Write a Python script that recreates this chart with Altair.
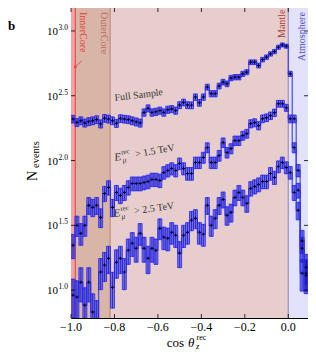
import altair as alt
import pandas as pd
import numpy as np

# ---------------- data ----------------
full_counts = [209, 197, 203, 195, 200, 203, 207, 192, 212, 209,
               203, 194, 211, 209, 207, 203, 199, 195, 235, 253,
               235, 238, 243, 235, 247, 250, 243, 268, 281, 268,
               267, 309, 279, 309, 369, 328, 328, 376, 403, 391,
               433, 440, 440, 467, 481, 574, 574, 541, 601, 628,
               665, 693, 749, 780, 763,
               467, 210, 84, 24, 15]
mid_counts = [22.2, 31.6, 27.4, 31.6, 45.1, 43.5, 45.1, 36.4, 55.7, 62.0,
              43.5, 56.7, 53.8, 56.7, 62.0, 66.5, 66.5, 66.5, 67.7, 68.9,
              71.4, 71.4, 70.2, 80.8, 83.8, 86.8, 83.8, 94.8, 86.8, 79.4,
              79.4, 96.5, 96.5, 105.5, 125.9, 96.5, 96.5, 109.3, 137.6, 115.2,
              123.7, 142.5, 142.5, 155.7, 161.3, 192.6, 196.0, 185.9, 210.4, 214.2,
              221.9, 234.0, 274.5, 274.5, 255.6,
              210, 126, 59, 21, 13.5]
low_counts = [9.15, 8.84, 11.5, 7.66, 11.5, 6.77, 5.88, 13.8, 15.6, 17.6,
              10.5, 16.4, 17.6, 13.8, 20.3, 23.0, 21.0, 27.4, 21.0, 17.6,
              21.0, 20.3, 30.0, 25.6, 25.1, 27.9, 26.5, 19.3, 26.5, 27.9,
              34.6, 35.8, 27.9, 27.0, 45.1, 31.6, 35.8, 45.1, 50.1, 37.8,
              39.8, 51.9, 56.7, 51.9, 46.7, 60.9, 63.1, 65.4, 68.9, 68.9,
              79.4, 74.0, 89.9, 96.5, 88.4,
              80.8, 56.7, 41.3, 13.5, 13.0]

regions = ["InnerCore", "OuterCore", "Mantle", "Atmosphere"]
region_start = [-1.0, -0.98, -0.82, 0.0]
region_end = [-0.98, -0.82, 0.0, 0.1]
region_fill = ["#f2a4a4", "#d8b5a7", "#e8cdcd", "#e2e2fc"]
boundaries = [-0.98, -0.82, 0.0]
boundary_colors = ["#e65050", "#c08a7c", "#a48cc0"]

x_ticks = [-1.0, -0.8, -0.6, -0.4, -0.2, 0.0]
y_tick_exps = [1.0, 1.5, 2.0, 2.5, 3.0]

FONT = "Liberation Serif"
W, H = 237, 310
BIN_W = 1.0 / 55

xs = alt.Scale(domain=[-1.0, 0.0908], nice=False, zero=False)
ys = alt.Scale(type="log", domain=[10 ** 0.785, 10 ** 3.177], nice=False)

rows = []
for name, counts in [("full", full_counts), ("mid", mid_counts), ("low", low_counts)]:
    for i, c in enumerate(counts):
        x0 = -1.0 + i * BIN_W
        e = float(np.sqrt(c))
        rows.append(dict(series=name, x0=x0, x1=x0 + BIN_W, xc=x0 + BIN_W / 2,
                         n=c, lo=c - e, hi=c + e))
df = pd.DataFrame(rows)

reg_df = pd.DataFrame({"region": regions, "start": region_start, "end": region_end})
bnd_df = pd.DataFrame({"b": boundaries, "col": boundary_colors})
xt_df = pd.DataFrame({"v": x_ticks})
xt_df["lab"] = [f"{v:.1f}".replace("-", "\u2212") for v in x_ticks]
yt_df = pd.DataFrame({"e": y_tick_exps})
yt_df["v"] = 10 ** yt_df["e"]
yt_df["lab"] = [f"{e:.1f}" for e in y_tick_exps]

# ---------------- layers ----------------
bg = alt.Chart(reg_df).mark_rect().encode(
    x=alt.X("start:Q", scale=xs, axis=None),
    x2="end:Q",
    y=alt.value(0), y2=alt.value(H),
    fill=alt.Fill("region:N", scale=alt.Scale(domain=regions, range=region_fill), legend=None),
)

bnd = alt.Chart(bnd_df).mark_rule(strokeWidth=1.2).encode(
    x=alt.X("b:Q", scale=xs, axis=None), y=alt.value(0), y2=alt.value(H),
    color=alt.Color("col:N", scale=None),
)

step = alt.Chart(df).mark_line(interpolate="step", color="#3a3aff", strokeWidth=1.1, clip=True).encode(
    x=alt.X("xc:Q", scale=xs, axis=None),
    y=alt.Y("n:Q", scale=ys, axis=None),
    detail="series:N",
)

boxes = alt.Chart(df).mark_rect(fill="#3c3cff", fillOpacity=0.62, stroke="#2222ff",
                                strokeWidth=0.8, clip=True).encode(
    x=alt.X("x0:Q", scale=xs, axis=None), x2="x1:Q",
    y=alt.Y("lo:Q", scale=ys, axis=None), y2="hi:Q",
)

errs = alt.Chart(df).mark_rule(color="#14147a", strokeWidth=0.7, clip=True).encode(
    x=alt.X("xc:Q", scale=xs, axis=None),
    y=alt.Y("lo:Q", scale=ys, axis=None), y2="hi:Q",
)

marks = alt.Chart(df).mark_point(shape="M-1,0H1M0,-1V1", size=10, color="black",
                                 strokeWidth=0.9, filled=False, opacity=1, clip=True).encode(
    x=alt.X("xc:Q", scale=xs, axis=None),
    y=alt.Y("n:Q", scale=ys, axis=None),
)

tick_top = alt.Chart(xt_df).mark_rule(color="black", strokeWidth=0.8).encode(
    x=alt.X("v:Q", scale=xs, axis=None), y=alt.value(0), y2=alt.value(4))
tick_bot = alt.Chart(xt_df).mark_rule(color="black", strokeWidth=0.8).encode(
    x=alt.X("v:Q", scale=xs, axis=None), y=alt.value(H - 4), y2=alt.value(H))
tick_l = alt.Chart(yt_df).mark_rule(color="black", strokeWidth=0.8).encode(
    y=alt.Y("v:Q", scale=ys, axis=None), x=alt.value(0), x2=alt.value(4))
tick_r = alt.Chart(yt_df).mark_rule(color="black", strokeWidth=0.8).encode(
    y=alt.Y("v:Q", scale=ys, axis=None), x=alt.value(W - 4), x2=alt.value(W))

xlab = alt.Chart(xt_df).mark_text(font=FONT, fontSize=12, align="center", baseline="top",
                                  color="black").encode(
    x=alt.X("v:Q", scale=xs, axis=None), y=alt.value(H + 3.5), text="lab:N")

ylab10 = alt.Chart(yt_df).mark_text(text="10", font=FONT, fontSize=11, align="right",
                                    baseline="middle", dy=1, color="black").encode(
    y=alt.Y("v:Q", scale=ys, axis=None), x=alt.value(-13))
ylabexp = alt.Chart(yt_df).mark_text(font=FONT, fontSize=7.5, align="left",
                                     baseline="middle", dy=-3, dx=0.5, color="black").encode(
    y=alt.Y("v:Q", scale=ys, axis=None), x=alt.value(-13), text="lab:N")


def txt(text, x, y, size, color="black", angle=0, align="left", baseline="alphabetic",
        dx=0, dy=0, weight="normal", style="normal"):
    return alt.Chart(pd.DataFrame({"t": [text]})).mark_text(
        align=align, baseline=baseline, font=FONT, fontSize=size, color=color,
        angle=angle, dx=dx, dy=dy, fontWeight=weight, fontStyle=style,
    ).encode(x=alt.value(x), y=alt.value(y), text="t:N")


def elabel(x, y, angle, cut):
    return [
        txt("E", x, y, 11, "#333333", angle, style="italic"),
        txt("rec", x, y, 7, "#333333", angle, dx=7.5, dy=-5),
        txt("μ", x, y, 7.5, "#333333", angle, dx=7.5, dy=3, style="italic"),
        txt(f"> {cut} TeV", x, y, 10, "#333333", angle, dx=21),
    ]


texts = [
    txt("b", -63, 22, 13, weight="bold"),
    txt("N", -34.5, 173, 14, angle=270),
    txt("events", -34.5, 173, 10.5, angle=270, dx=13, dy=2.5),
    txt("cos", 113, 338.5, 13, align="right"),
    txt("θ", 117, 338.5, 13, style="italic"),
    txt("rec", 125.5, 332, 8),
    txt("z", 125, 340.5, 8.5, style="italic"),
    txt("InnerCore", 8.5, 4, 10, "#e63c36", angle=90),
    txt("OuterCore", 29.5, 4, 10, "#b86a60", angle=90),
    txt("Mantle", 214, 30, 10, "#a83a34", angle=270),
    txt("Atmosphere", 234, 53, 10, "#4b4bc0", angle=270),
    txt("Full Sample", 44, 93, 10, "#333333", angle=353),
]
texts += elabel(44, 153, 350, "1.5")
texts += elabel(43, 209, 352, "2.5")

arrow_line = alt.Chart(pd.DataFrame({"a": [0]})).mark_rule(color="#e63c36", strokeWidth=0.8).encode(
    x=alt.value(10.7), y=alt.value(53), x2=alt.value(4.2), y2=alt.value(58.8))
arrow_head = alt.Chart(pd.DataFrame({"a": [0]})).mark_point(
    shape="triangle", angle=228, size=12, filled=True, color="#e63c36", opacity=1).encode(
    x=alt.value(4.2), y=alt.value(58.8))

chart = alt.layer(
    bg, bnd, step, boxes, errs, marks,
    tick_top, tick_bot, tick_l, tick_r, xlab, ylab10, ylabexp,
    arrow_line, arrow_head, *texts,
).properties(
    width=W, height=H,
    padding={"left": 63, "top": 0, "right": 0, "bottom": 31},
    autosize=alt.AutoSizeParams(type="none"),
    background="white",
).configure_view(stroke="black", strokeWidth=1)

chart.save("out.html", embed_options={"renderer": "svg", "actions": False})
